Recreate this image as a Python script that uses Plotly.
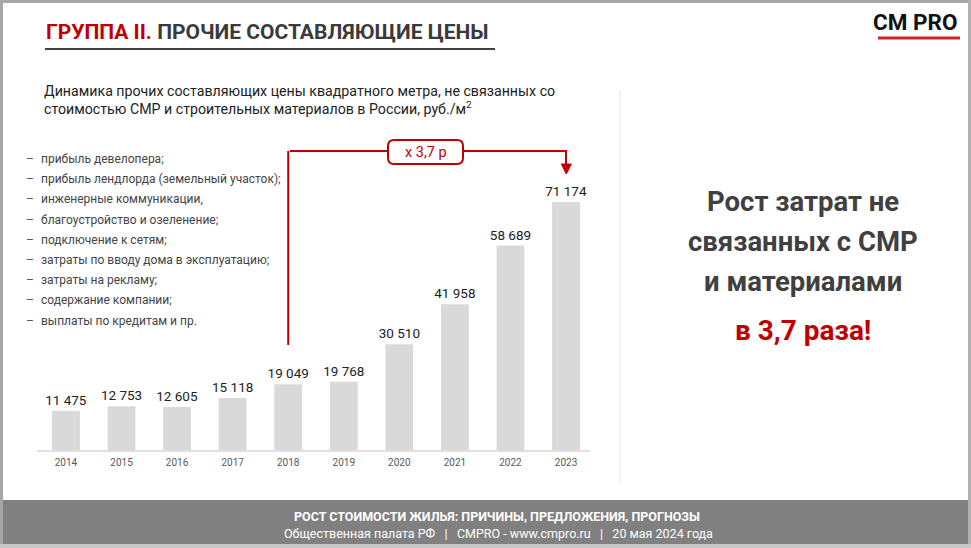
import plotly.graph_objects as go

years = ["2014", "2015", "2016", "2017", "2018", "2019", "2020", "2021", "2022", "2023"]
values = [11475, 12753, 12605, 15118, 19049, 19768, 30510, 41958, 58689, 71174]
value_labels = ["11 475", "12 753", "12 605", "15 118", "19 049", "19 768",
                "30 510", "41 958", "58 689", "71 174"]
items = [
    "прибыль девелопера;",
    "прибыль лендлорда (земельный участок);",
    "инженерные коммуникации,",
    "благоустройство и озеленение;",
    "подключение к сетям;",
    "затраты по вводу дома в эксплуатацию;",
    "затраты на рекламу;",
    "содержание компании;",
    "выплаты по кредитам и пр.",
]

W, H = 971, 548
FONT = "Roboto"
RED = "#c00000"


def px(x):
    return x / W


def py(y):
    return 1 - y / H


fig = go.Figure()
fig.add_trace(go.Bar(
    x=years, y=values, width=0.5,
    marker=dict(color="#d9d9d9", line=dict(width=0)),
    text=value_labels, textposition="outside", cliponaxis=False,
    constraintext="none",
    textfont=dict(family=FONT, size=13.5, color="#222222"),
    hoverinfo="skip",
))

shapes = []
annotations = []


def note(x, y, text, size, color, xanchor="center", **kw):
    annotations.append(dict(xref="paper", yref="paper", x=px(x), y=py(y),
                            xanchor=xanchor, yanchor="middle", text=text,
                            showarrow=False, font=dict(family=FONT, size=size, color=color),
                            **kw))


# slide frame
shapes.append(dict(type="rect", xref="paper", yref="paper", x0=0, x1=1, y0=py(3), y1=1,
                   line=dict(width=0), fillcolor="#a6a6a6", layer="below"))
shapes.append(dict(type="rect", xref="paper", yref="paper", x0=0, x1=px(3), y0=0, y1=1,
                   line=dict(width=0), fillcolor="#a6a6a6", layer="below"))
shapes.append(dict(type="rect", xref="paper", yref="paper", x0=px(968), x1=1, y0=0, y1=1,
                   line=dict(width=0), fillcolor="#b0b0b0", layer="below"))
# footer band
shapes.append(dict(type="rect", xref="paper", yref="paper", x0=px(3), x1=px(968),
                   y0=py(544), y1=py(500),
                   line=dict(width=0), fillcolor="#808080", layer="below"))
shapes.append(dict(type="rect", xref="paper", yref="paper", x0=0, x1=1,
                   y0=0, y1=py(544),
                   line=dict(width=0), fillcolor="#c8c8c8", layer="below"))

# title underline
shapes.append(dict(type="line", xref="paper", yref="paper", x0=px(45), x1=px(495),
                   y0=py(49), y1=py(49), line=dict(color="#404040", width=2)))
# CM PRO red underline
shapes.append(dict(type="line", xref="paper", yref="paper", x0=px(878), x1=px(960),
                   y0=py(38), y1=py(38), line=dict(color="#d0202a", width=3)))
# vertical separator
shapes.append(dict(type="line", xref="paper", yref="paper", x0=px(620), x1=px(620),
                   y0=py(90), y1=py(482), line=dict(color="#e6e6e6", width=1)))
# baseline
shapes.append(dict(type="line", xref="paper", yref="paper", x0=px(37), x1=px(590),
                   y0=py(451), y1=py(451), line=dict(color="#e0e0e0", width=2)))

# bracket: from 2018 up, across to 2023 with arrow
shapes.append(dict(type="line", xref="x", yref="paper", x0=4, x1=4,
                   y0=py(345), y1=py(151), line=dict(color=RED, width=2)))
shapes.append(dict(type="line", xref="paper", yref="paper", x0=px(290), x1=px(388),
                   y0=py(151), y1=py(151), line=dict(color=RED, width=2)))
shapes.append(dict(type="line", xref="paper", yref="paper", x0=px(463), x1=px(567),
                   y0=py(151), y1=py(151), line=dict(color=RED, width=2)))
shapes.append(dict(type="line", xref="x", yref="paper", x0=9, x1=9,
                   y0=py(166), y1=py(151), line=dict(color=RED, width=2)))
# arrow head (triangle)
ax_c = 566.3
shapes.append(dict(type="path", xref="paper", yref="paper",
                   path=f"M {px(ax_c - 5)},{py(164)} L {px(ax_c + 5)},{py(164)} "
                        f"L {px(ax_c)},{py(174)} Z",
                   line=dict(color=RED, width=1), fillcolor=RED))
# rounded box
x0, x1, y0, y1, r = 388, 463, 140, 164, 6
path = (f"M {px(x0 + r)},{py(y0)} L {px(x1 - r)},{py(y0)} "
        f"Q {px(x1)},{py(y0)} {px(x1)},{py(y0 + r)} L {px(x1)},{py(y1 - r)} "
        f"Q {px(x1)},{py(y1)} {px(x1 - r)},{py(y1)} L {px(x0 + r)},{py(y1)} "
        f"Q {px(x0)},{py(y1)} {px(x0)},{py(y1 - r)} L {px(x0)},{py(y0 + r)} "
        f"Q {px(x0)},{py(y0)} {px(x0 + r)},{py(y0)} Z")
shapes.append(dict(type="path", xref="paper", yref="paper", path=path,
                   line=dict(color=RED, width=2), fillcolor="#ffffff"))
note(425.5, 152, "x 3,7 р", 14.5, RED)

# title
note(44, 32, f"<b><span style='color:{RED}'>ГРУППА II.</span> ПРОЧИЕ СОСТАВЛЯЮЩИЕ ЦЕНЫ</b>",
     21, "#3a3a3a", xanchor="left")
note(959, 22, "<b>CM PRO</b>", 22.5, "#111111", xanchor="right")
# subtitle
note(42, 100,
     "Динамика прочих составляющих цены квадратного метра, не связанных со<br>"
     "стоимостью СМР и строительных материалов в России, руб./м<sup>2</sup>",
     14.2, "#222222", xanchor="left", align="left")
# list
for i, it in enumerate(items):
    yy = 159 + i * 20.2
    note(24, yy, "–", 12, "#555555", xanchor="left")
    note(39, yy, it, 12, "#444444", xanchor="left")
# right text
for j, line in enumerate(["Рост затрат не", "связанных с СМР", "и материалами"]):
    note(803, 202 + j * 39.5, f"<b>{line}</b>", 27.5, "#404040")
note(803, 330, "<b>в 3,7 раза!</b>", 28, RED)
# footer
note(497, 516, "<b>РОСТ СТОИМОСТИ ЖИЛЬЯ: ПРИЧИНЫ, ПРЕДЛОЖЕНИЯ, ПРОГНОЗЫ</b>", 12.5, "#ffffff")
note(498, 533, "Общественная палата РФ   |   CMPRO - www.cmpro.ru   |   20 мая 2024 года",
     12.5, "#ffffff")

fig.update_layout(
    width=W, height=H,
    margin=dict(l=0, r=0, t=0, b=0),
    paper_bgcolor="#ffffff", plot_bgcolor="rgba(0,0,0,0)",
    showlegend=False,
    font=dict(family=FONT),
    shapes=shapes, annotations=annotations,
    xaxis=dict(domain=[px(38.2), px(593.8)], type="category", showgrid=False,
               showline=False, zeroline=False, ticks="",
               tickfont=dict(family=FONT, size=10, color="#595959"), ticklabelstandoff=4),
    yaxis=dict(domain=[py(451), py(171)], range=[0, 80000], visible=False),
)

fig.write_html("out.html", config={"displayModeBar": False},
               post_script="document.body.style.margin='0';document.body.style.overflow='hidden';")
